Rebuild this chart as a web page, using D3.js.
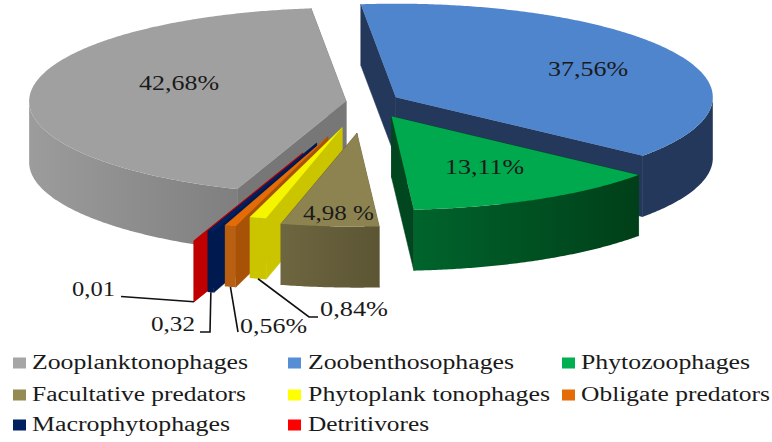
<!DOCTYPE html>
<html>
<head>
<meta charset="utf-8">
<script src="https://cdn.jsdelivr.net/npm/d3@7"></script>
<style>
  html, body { margin: 0; padding: 0; background: #fff; }
  text { font-family: "Liberation Serif", serif; fill: #1a1a1a; }
</style>
</head>
<body>
<div id="chart"></div>
<script>
// data
const categories = ["Zooplanktonophages", "Zoobenthosophages", "Phytozoophages", "Facultative predators",
    "Phytoplank tonophages", "Obligate predators", "Macrophytophages", "Detritivores"];
const values = [42.68, 37.56, 13.11, 4.98, 0.84, 0.56, 0.32, 0.01];
const valueLabels = ["42,68%", "37,56%", "13,11%", "4,98 %", "0,84%", "0,56%", "0,32", "0,01"];

// slice styling, same order as categories
const explode = [20, 34, 55, 106, 90, 124, 148, 184];
const legendColors = ["#a6a6a6", "#558ed5", "#00b050", "#948a54", "#ffff00", "#e36c09", "#002060", "#ff0000"];
const topColors = ["#a0a0a0", "#4f85cc", "#00a84e", "#8d8350", "#f5f500", "#e36c09", "#00205e", "#c00000"];
const radialColors = ["#777777", "#23385a", "#00471f", "#5c5534", "#cbc500", "#a85208", "#001a50", "#c00000"];
const wallFrom = ["#9c9c9c", "#23385a", "#00642c", "#6e6640", "#cbc500", "#b85f12", "#001a50", "#c00000"];
const wallTo = ["#7f7f7f", "#23385a", "#003f19", "#5c5534", "#cbc500", "#b85f12", "#001a50", "#c00000"];

// label placement: x, baseline, width
const labelPos = [[139, 90, 80], [548, 76, 80], [445, 174, 79], [303, 220, 71],
    [320, 316, 68], [240, 333, 67], [151, 331, 44], [72, 296, 43]];
// leader elbows after the point on the slice
const leaderEnds = { 4: [[309, 317], [318, 317]], 5: [[238, 332]], 6: [[210, 332], [200, 332]], 7: [[121, 296.5]] };

const legendCols = [[13, 32], [288, 308], [562, 581]];
const legendRows = [369, 401, 431];
const legendWidths = [216, 206, 169, 214, 242, 189, 198, 121];

const width = 772, height = 442;
const cx = 366, cy = 102, rx = 317, ry = 93.5, depth = 61;
const rad = d => d * Math.PI / 180;

const svg = d3.select("#chart").append("svg")
    .attr("width", width)
    .attr("height", height)
    .style("display", "block");
const defs = svg.append("defs");

const pie = d3.pie().sort(null).startAngle(rad(-159.9)).endAngle(rad(200.1));
const line = d3.line();

const slices = pie(values).map(function (d, i) {
    const mid = (d.startAngle + d.endAngle) / 2;
    return {
        i: i,
        t0: d.startAngle,
        t1: d.endAngle,
        mid: mid,
        ox: cx + explode[i] * Math.sin(mid),
        oy: cy - explode[i] / rx * ry * Math.cos(mid)
    };
});

function rim(s, t) {
    return [s.ox + rx * Math.sin(t), s.oy - ry * Math.cos(t)];
}
function drop(p) {
    return [p[0], p[1] + depth];
}
function arcTs(s) {
    const n = Math.max(2, Math.ceil((s.t1 - s.t0) / rad(0.5)));
    return d3.range(n + 1).map(k => s.t0 + (s.t1 - s.t0) * k / n);
}

// back to front, like the overlaps in the picture
const drawOrder = [0, 1, 2, 7, 6, 5, 4, 3];

drawOrder.forEach(function (i) {
    const s = slices[i];
    const g = svg.append("g");
    const apex = [s.ox, s.oy];

    // radial walls
    [s.t0, s.t1].forEach(function (t) {
        const p = rim(s, t);
        g.append("path")
            .attr("d", line([apex, p, drop(p), drop(apex)]) + "Z")
            .attr("fill", radialColors[i])
            .attr("stroke", radialColors[i])
            .attr("stroke-width", 0.5);
    });

    // outer wall, only the part facing the viewer
    const front = arcTs(s).filter(t => Math.cos(t) <= 0).map(t => rim(s, t));
    if (front.length > 1) {
        const grad = defs.append("linearGradient").attr("id", "wall" + i);
        grad.append("stop").attr("offset", "0%").attr("stop-color", wallFrom[i]);
        grad.append("stop").attr("offset", "100%").attr("stop-color", wallTo[i]);
        g.append("path")
            .attr("d", line(front.concat(front.map(drop).reverse())) + "Z")
            .attr("fill", "url(#wall" + i + ")");
    }

    // top face
    g.append("path")
        .attr("d", line([apex].concat(arcTs(s).map(t => rim(s, t)))) + "Z")
        .attr("fill", topColors[i]);
});

// leader lines
Object.keys(leaderEnds).forEach(function (k) {
    const s = slices[k];
    svg.append("path")
        .attr("d", line([drop(rim(s, s.mid))].concat(leaderEnds[k])))
        .attr("fill", "none")
        .attr("stroke", "#111")
        .attr("stroke-width", 1.6);
});

// value labels
svg.selectAll("text.value")
    .data(valueLabels)
    .enter()
    .append("text")
    .attr("class", "value")
    .attr("x", (d, i) => labelPos[i][0])
    .attr("y", (d, i) => labelPos[i][1])
    .attr("textLength", (d, i) => labelPos[i][2])
    .attr("lengthAdjust", "spacingAndGlyphs")
    .attr("font-size", 22)
    .text(d => d);

// legend
const legend = svg.selectAll("g.legend")
    .data(categories)
    .enter()
    .append("g")
    .attr("class", "legend");

legend.append("rect")
    .attr("x", (d, i) => legendCols[i % 3][0])
    .attr("y", (d, i) => legendRows[Math.floor(i / 3)] - 11.5)
    .attr("width", 13)
    .attr("height", 11)
    .attr("fill", (d, i) => legendColors[i]);

legend.append("text")
    .attr("x", (d, i) => legendCols[i % 3][1])
    .attr("y", (d, i) => legendRows[Math.floor(i / 3)])
    .attr("textLength", (d, i) => legendWidths[i])
    .attr("lengthAdjust", "spacingAndGlyphs")
    .attr("font-size", 20)
    .text(d => d);
</script>
</body>
</html>
